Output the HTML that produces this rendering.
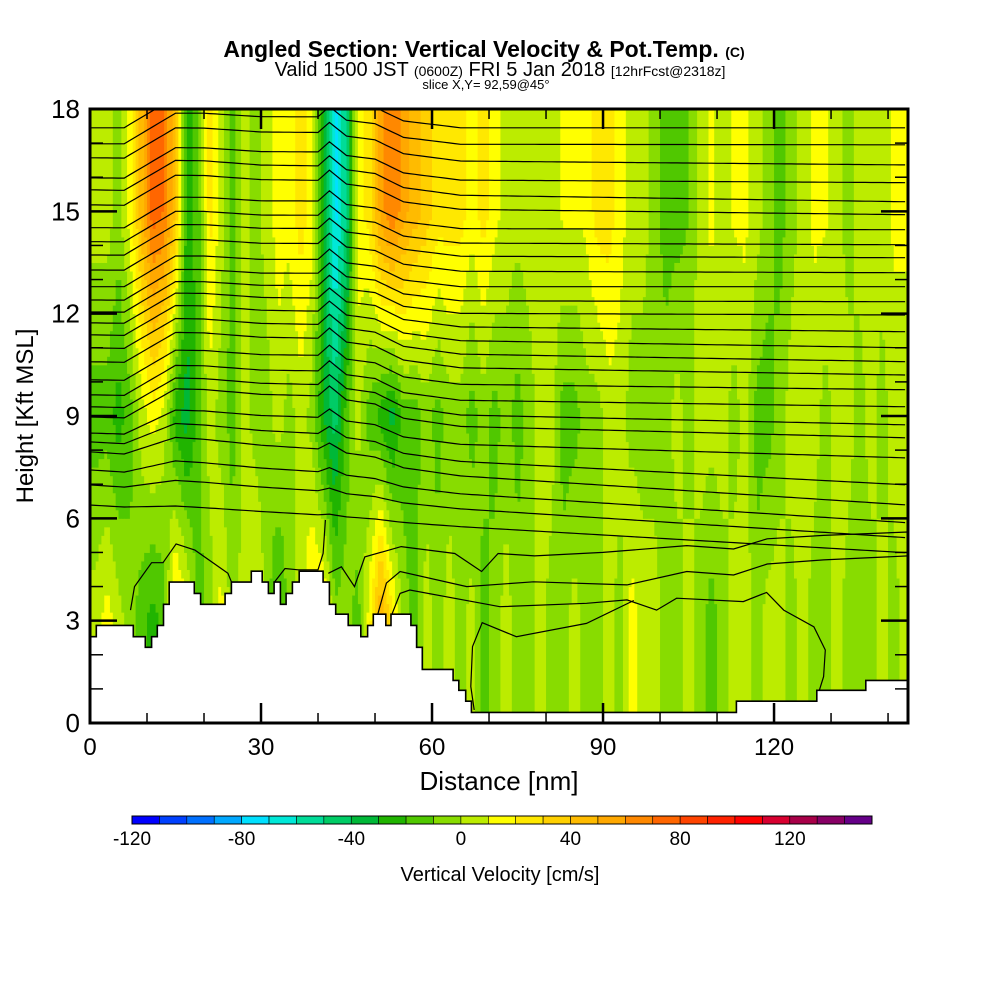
<!DOCTYPE html>
<html><head><meta charset="utf-8"><style>
body{margin:0;background:#fff;}
svg{display:block;font-family:"Liberation Sans",Arial,sans-serif;}
</style></head><body>
<svg id="chart" width="1000" height="1000" viewBox="0 0 1000 1000" xmlns="http://www.w3.org/2000/svg">
<rect x="0" y="0" width="1000" height="1000" fill="#fff"/>
<g>
<text x="484" y="57" text-anchor="middle" font-size="23" font-weight="bold">Angled Section: Vertical Velocity &amp; Pot.Temp. <tspan font-size="14">(C)</tspan></text>
<text x="500" y="76" text-anchor="middle" font-size="20">Valid 1500 JST <tspan font-size="14">(0600Z)</tspan> FRI 5 Jan 2018 <tspan font-size="14">[12hrFcst@2318z]</tspan></text>
<text x="486" y="89" text-anchor="middle" font-size="13">slice X,Y= 92,59@45°</text>
</g>
<defs><clipPath id="plotclip"><rect x="90" y="109" width="818" height="614"/></clipPath></defs>
<g id="heat" clip-path="url(#plotclip)"></g>
<g id="contours" clip-path="url(#plotclip)"></g>
<g id="terrain"></g>
<g id="axes"></g>
<g id="cbar"></g>
</svg>
<script>
// ---- data ----
const colNm = [1,3,5,7,9,11,13,15,17,19,21,23,25,27,29,31,33,35,37,39,41,43,45,47,49,51,53,55,57,59,61,63,65,67,69,71,73,75,77,79,81,83,85,87,89,91,93,95,97,99,101,103,105,107,109,111,113,115,117,119,121,123,125,127,129,131,133,135,137,139,141,143];
const rowKft = [3, 9, 15];
const wLow  = [5,15,5,-5,-15,-25,-15,30,15,-15,-5,15,-5,5,15,-5,-25,-5,5,25,25,-5,-5,-15,15,55,25,-5,-15,5,-5,5,-5,5,-15,-5,5,-5,-5,5,-5,-5,5,-5,-5,5,-5,15,5,5,-5,-5,5,-5,-15,-5,5,5,-5,5,5,-5,5,-5,-5,5,-5,-5,-5,5,-5,5];
const wMid  = [-15,-15,-25,-15,5,15,5,-25,-35,-15,5,-5,-15,5,-5,-5,5,-5,5,-5,-30,-45,-15,5,-15,-25,-35,-15,-15,-5,-15,-5,-5,-15,-5,-15,-5,-15,-5,5,5,-15,-15,-5,-5,5,5,-5,-5,-5,-5,5,-5,5,5,5,-5,5,-15,-15,-5,5,5,5,-5,5,5,-5,5,-5,5,5];
const wHigh = [5,5,-5,15,45,75,70,40,-25,-15,25,5,-15,5,-5,5,15,15,25,15,-35,-75,-50,15,25,55,70,55,45,35,25,25,25,15,25,15,5,5,5,5,5,12,12,12,25,25,15,5,5,-5,-15,-15,-10,5,12,5,12,12,5,-5,-15,-5,5,12,12,5,-5,5,5,5,12,12];
const binColors = ["#0000ff","#0040ff","#0070ff","#00a8ff","#00e0ff","#00e8d8","#00dc98","#00cc66","#00b838","#20b400","#50c800","#88dc00","#bcec00","#ffff00","#ffe800","#ffd000","#ffbb00","#ffa800","#ff8800","#ff6600","#ff4400","#ff2200","#ff0000","#d80030","#a80048","#880066","#660088"];
const cbarLabels = ["-120","-80","-40","0","40","80","120"];
const cbarLabelVals = [-120,-80,-40,0,40,80,120];
const terrNm  = [0,1.1,7.6,9.7,10.8,11.8,12.9,13.9,18.3,19.4,23.7,24.8,28.3,30.2,31.3,32.3,33.4,34.4,35.5,36.7,40.9,42.0,43.1,45.3,47.5,48.7,49.7,51.9,52.8,56.3,57.3,58.3,63.7,64.7,65.9,66.9,113.4,127.5,136.1,143.5];
const terrKft = [2.53,2.86,2.53,2.22,2.53,2.86,3.48,4.13,3.80,3.48,3.80,4.13,4.45,4.13,3.80,4.13,3.48,3.80,4.13,4.45,4.13,3.48,3.19,2.86,2.53,2.86,3.19,2.86,3.19,2.86,2.22,1.57,1.25,0.96,0.64,0.31,0.64,0.96,1.25,1.25];
const thetaLeft  = [17.45,16.98,16.57,15.98,15.63,15.19,14.52,14.11,13.72,13.28,12.79,12.4,12.05,11.73,11.38,11.0,10.59,10.06,9.62,9.27,8.97,8.5,8.24,7.95,7.42,6.98,6.39];
const thetaRight = [17.45,16.95,16.36,15.84,15.28,14.9,14.46,14.02,13.64,13.2,12.79,12.35,11.96,11.47,11.0,10.59,10.2,9.77,9.27,8.74,8.36,7.77,6.98,6.39,5.87,5.43,4.99];
const waveNm  = [0,6,10,15,20,30,40,42,45,50,55,65,143.5];
const waveKft = [0,0,0.4,0.9,0.9,0.8,0.8,1.1,0.7,0.6,0.2,0,0];
const lowLine1Nm = [7.1,7.8,10.8,12.8,15.1,18.4,24.2,24.8];
const lowLine1Kft = [3.31,4.0,4.7,4.7,5.25,5.07,4.39,4.14];
const lowLine2Nm = [32.4,34.2,36.5,40,40.9,41.3];
const lowLine2Kft = [4.14,4.53,4.49,4.49,4.97,5.95];
const lowLine3Nm = [41.8,44.1,46.4,48.2,54.6,64,68.7,71.6,78,90,104.7,112.9,118.8,128.7,143.5];
const lowLine3Kft = [4.39,4.58,4.0,4.87,5.17,4.97,4.44,4.97,4.9,5.0,5.2,5.1,5.4,5.5,5.6];
const lowLine4Nm = [50.5,52,54.4,66.1,77.8,94.2,104.7,112.9,118.8,128.7,143.5];
const lowLine4Kft = [3.2,4.1,4.44,4.0,4.14,4.05,4.44,4.34,4.66,4.78,4.9];
const lowLine5Nm = [53,54.4,56.1,71.9,87.1,94.2,99.4,102.9,114.6,118.7,121.7,127,129,128.7,127.5];
const lowLine5Kft = [3.2,3.8,3.9,3.41,3.51,3.61,3.31,3.66,3.56,3.83,3.31,2.82,2.14,1.36,0.72];
const lowLine6Nm = [67.4,66.8,67.1,68.8,74.8,87.1,95.4];
const lowLine6Kft = [0.38,1.07,2.24,2.94,2.53,2.92,3.59];

// ---- axes functions ----
const X0=90, X1=908, Y0=723, Y1=109, NMMAX=143.5, KMAX=18;
const xs = nm => X0 + (X1-X0)*nm/NMMAX;
const ys = k => Y0 - (Y0-Y1)*k/KMAX;
const NS='http://www.w3.org/2000/svg';
function mk(tag, attrs, parent){const e=document.createElementNS(NS,tag);for(const k in attrs)e.setAttribute(k,attrs[k]);parent.appendChild(e);return e;}
function colorOf(v){let i=Math.floor((v+120)/10);if(i<0)i=0;if(i>26)i=26;return binColors[i];}
function interp(xa, ya, x){if(x<=xa[0])return ya[0];for(let i=1;i<xa.length;i++){if(x<=xa[i]){const t=(x-xa[i-1])/(xa[i]-xa[i-1]);return ya[i-1]+t*(ya[i]-ya[i-1]);}}return ya[ya.length-1];}

// ---- heatmap ----
const heat=document.getElementById('heat');
const rows=[wLow,wMid,wHigh];
const dN=0.5, dK=0.25;
for(let nm=0; nm<NMMAX; nm+=dN){
  const c=nm+dN/2;
  const colVals=rows.map(r=>interp(colNm,r,c));
  let runStart=0, runCol=null;
  for(let k=0;k<=KMAX;k+=dK){
    let col=null;
    if(k<KMAX){const v=interp(rowKft,colVals,k+dK/2);col=colorOf(v);}
    if(col!==runCol){
      if(runCol!==null){
        const r=mk('rect',{x:xs(nm).toFixed(2),y:ys(k).toFixed(2),width:(xs(nm+dN)-xs(nm)+0.6).toFixed(2),height:(ys(runStart)-ys(k)+0.5).toFixed(2),fill:runCol},heat);
        
        
      }
      runStart=k; runCol=col;
    }
  }
}

// ---- contours ----
const cont=document.getElementById('contours');
function line(nmArr,kArr,name){
  let d='';
  for(let i=0;i<nmArr.length;i++){d+=(i?'L':'M')+xs(nmArr[i]).toFixed(1)+','+ys(kArr[i]).toFixed(1);}
  const p=mk('path',{d:d,fill:'none',stroke:'#000','stroke-width':'1.2'},cont);
  
  
}
for(let j=0;j<thetaLeft.length;j++){
  const L=thetaLeft[j], R=thetaRight[j];
  const s=Math.max(0,Math.min(1,(L-6)/3));
  const nmA=[],kA=[];
  for(let nm=0;nm<=NMMAX+0.01;nm+=1){nmA.push(nm);kA.push(L+(R-L)*nm/NMMAX+interp(waveNm,waveKft,nm)*s);}
  line(nmA,kA,'theta-contour');
}
line(lowLine1Nm,lowLine1Kft,'theta-contour-low');
line(lowLine2Nm,lowLine2Kft,'theta-contour-low');
line(lowLine3Nm,lowLine3Kft,'theta-contour-low');
line(lowLine4Nm,lowLine4Kft,'theta-contour-low');
line(lowLine5Nm,lowLine5Kft,'theta-contour-low');
line(lowLine6Nm,lowLine6Kft,'theta-contour-low');

// ---- terrain ----
const terr=document.getElementById('terrain');
let td='M'+xs(0)+','+ys(0);
let tl='';
for(let i=0;i<terrNm.length;i++){
  const x=xs(terrNm[i]).toFixed(1), y=ys(terrKft[i]).toFixed(1);
  if(i===0){td+='L'+x+','+y;tl='M'+x+','+y;}
  else{const py=ys(terrKft[i-1]).toFixed(1);td+='L'+x+','+py+'L'+x+','+y;tl+='L'+x+','+py+'L'+x+','+y;}
}
td+='L'+xs(NMMAX)+','+ys(0)+'Z';
const tp=mk('path',{d:td,fill:'#fff',stroke:'none'},terr);


const tlp=mk('path',{d:tl,fill:'none',stroke:'#000','stroke-width':'1.6'},terr);



// ---- axes ----
const ax=document.getElementById('axes');
const frame=mk('rect',{x:X0,y:Y1,width:X1-X0,height:Y0-Y1,fill:'none',stroke:'#000','stroke-width':'3'},ax);


for(let nm=0;nm<=NMMAX;nm+=10){
  const major=(nm%30===0), len=major?20:10, x=xs(nm);
  const t1=mk('line',{x1:x,y1:Y0,x2:x,y2:Y0-len,stroke:'#000','stroke-width':major?2.5:1.5},ax);
  
  
  const t2=mk('line',{x1:x,y1:Y1,x2:x,y2:Y1+len,stroke:'#000','stroke-width':major?2.5:1.5},ax);
  
  
  if(major){
    const tx=mk('text',{x:x,y:755,'text-anchor':'middle','font-size':'24'},ax);
    tx.textContent=String(nm);
    
    
  }
}
for(let k=0;k<=KMAX;k+=1){
  const major=(k%3===0), len=major?27:13, y=ys(k);
  const t1=mk('line',{x1:X0,y1:y,x2:X0+len,y2:y,stroke:'#000','stroke-width':major?2.5:1.5},ax);
  
  
  const t2=mk('line',{x1:X1,y1:y,x2:X1-len,y2:y,stroke:'#000','stroke-width':major?2.5:1.5},ax);
  
  
  if(major){
    const tx=mk('text',{x:80,y:y+9,'text-anchor':'end','font-size':'26'},ax);
    tx.textContent=String(k);
    
    
  }
}
const xt=mk('text',{x:499,y:790,'text-anchor':'middle','font-size':'26'},ax);
xt.textContent='Distance [nm]';


const yt=mk('text',{x:0,y:0,'text-anchor':'middle','font-size':'24',transform:'translate(33,416) rotate(-90)'},ax);
yt.textContent='Height [Kft MSL]';



// ---- colorbar ----
const cb=document.getElementById('cbar');
const CB0=132, CB1=872, CBY=816, CBH=8, bw=(CB1-CB0)/binColors.length;
for(let i=0;i<binColors.length;i++){
  const r=mk('rect',{x:(CB0+i*bw).toFixed(2),y:CBY,width:bw.toFixed(2),height:CBH,fill:binColors[i],stroke:'#000','stroke-width':'0.6'},cb);
  
  
}
const cbf=mk('rect',{x:CB0,y:CBY,width:CB1-CB0,height:CBH,fill:'none',stroke:'#000','stroke-width':'1'},cb);


for(let i=0;i<cbarLabels.length;i++){
  const x=CB0+(cbarLabelVals[i]+120)/10*bw;
  const t=mk('text',{x:x.toFixed(1),y:845,'text-anchor':'middle','font-size':'19'},cb);
  t.textContent=cbarLabels[i];
  
  
}
const cbt=mk('text',{x:500,y:881,'text-anchor':'middle','font-size':'20'},cb);
cbt.textContent='Vertical Velocity [cm/s]';


</script>
</body></html>
